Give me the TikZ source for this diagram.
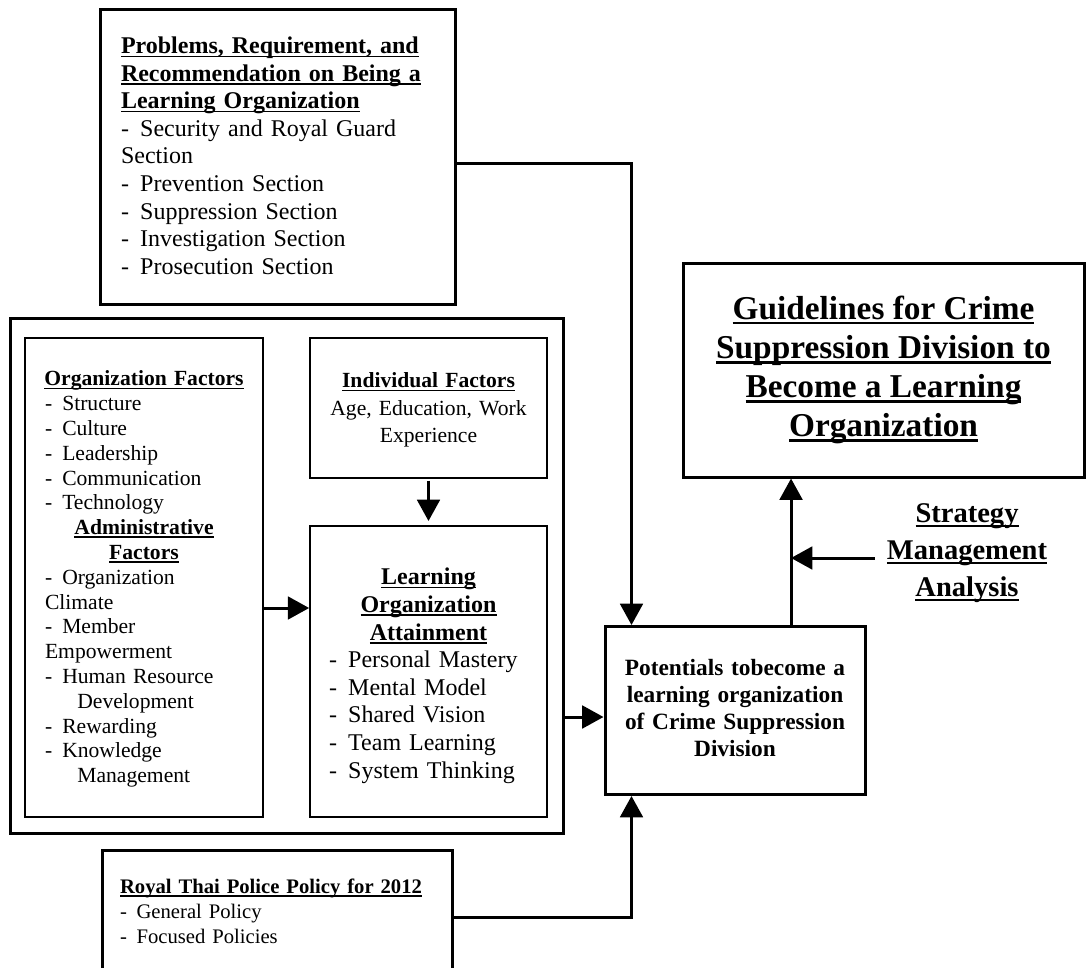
\documentclass[tikz,border=0pt]{standalone}
\usepackage{fontspec}
\setmainfont{Liberation Serif}
\usetikzlibrary{arrows.meta}
\setlength{\parindent}{0pt}
\newlength{\ulwd}
\newcommand{\uln}[1]{\settowidth{\ulwd}{#1}\rlap{\rule[-0.15em]{\ulwd}{0.065em}}#1}
\newcommand{\itm}[1]{\makebox[0.8em][l]{-}#1}
\tikzset{
  thickbox/.style={draw, line width=2.25pt, inner sep=0pt},
  thinbox/.style={draw, line width=1.25pt, inner sep=0pt},
  flow/.style={line width=2.25pt, -{Triangle[length=16pt,width=17pt]}},
}

\begin{document}
\begin{tikzpicture}[x=0.75pt,y=0.75pt,yscale=-1,xscale=1]
\path[use as bounding box, fill=white] (0,0) rectangle (1088,967);

% Shape: Rectangle [problems]
\node[thickbox, anchor=north, minimum width=266.25pt, text height=33pt, text depth=188.25pt,
  inner xsep=15.75pt, text width=234.75pt, align=left,
  font=\fontsize{18pt}{20.7pt}\selectfont] (probbox) at (277.5,8)
  {\textbf{\uln{Problems, Requirement, and}}\\
   \textbf{\uln{Recommendation on Being a}}\\
   \textbf{\uln{Learning Organization}}\\
   \itm{Security and Royal Guard}\\
   Section\\
   \itm{Prevention Section}\\
   \itm{Suppression Section}\\
   \itm{Investigation Section}\\
   \itm{Prosecution Section}};

% Shape: Rectangle [factors frame]
\node[thickbox, minimum width=414.75pt, minimum height=386.25pt] (factbox) at (286.5,575.5) {};

% Shape: Rectangle [organization factors]
\node[thinbox, anchor=north, minimum width=178.5pt, text height=36pt, text depth=323.25pt,
  inner xsep=15pt, text width=148.5pt, align=left,
  font=\fontsize{16.2pt}{18.6pt}\selectfont] (orgbox) at (144,337)
  {\centerline{\textbf{\uln{Organization Factors}}}
   \itm{Structure}\\
   \itm{Culture}\\
   \itm{Leadership}\\
   \itm{Communication}\\
   \itm{Technology}\par
   \centerline{\textbf{\uln{Administrative}}}
   \centerline{\textbf{\uln{Factors}}}
   \itm{Organization}\\
   Climate\\
   \itm{Member}\\
   Empowerment\\
   \itm{Human Resource}\\
   \hspace*{1.5em}Development\\
   \itm{Rewarding}\\
   \itm{Knowledge}\\
   \hspace*{1.5em}Management};

% Shape: Rectangle [individual factors]
\node[thinbox, anchor=north, minimum width=177.75pt, text height=37.5pt, text depth=67.5pt,
  text width=177.75pt, align=center,
  font=\fontsize{16.2pt}{20.6pt}\selectfont] (indbox) at (428.5,337)
  {\textbf{\uln{Individual Factors}}\\
   Age, Education, Work\\
   Experience};

% Shape: Rectangle [attainment]
\node[thinbox, anchor=north, minimum width=177.75pt, text height=44.25pt, text depth=174pt,
  inner xsep=14.25pt, text width=149.25pt, align=left,
  font=\fontsize{18pt}{20.7pt}\selectfont] (lobox) at (428.5,525)
  {\centerline{\textbf{\uln{Learning}}}
   \centerline{\textbf{\uln{Organization}}}
   \centerline{\textbf{\uln{Attainment}}}
   \itm{Personal Mastery}\\
   \itm{Mental Model}\\
   \itm{Shared Vision}\\
   \itm{Team Learning}\\
   \itm{System Thinking}};

% Shape: Rectangle [potentials]
\node[thickbox, anchor=north, minimum width=195pt, text height=36.75pt, text depth=89.25pt,
  text width=195pt, align=center,
  font=\bfseries\fontsize{17.5pt}{20.25pt}\selectfont] (potbox) at (735,625)
  {Potentials tobecome a\\
   learning organization\\
   of Crime Suppression\\
   Division};

% Shape: Rectangle [guidelines]
\node[thickbox, minimum width=300.75pt, minimum height=160.5pt, align=center,
  font=\bfseries\fontsize{25pt}{29.3pt}\selectfont] (guidebox) at (883.5,370)
  {\uln{Guidelines for Crime}\\
   \uln{Suppression Division to}\\
   \uln{Become a Learning}\\
   \uln{Organization}};

% Shape: Rectangle [police policy]
\node[thickbox, anchor=north, minimum width=262.5pt, text height=32.25pt, text depth=73.5pt,
  inner xsep=13.5pt, text width=235.5pt, align=left,
  font=\fontsize{15.5pt}{18.75pt}\selectfont] (polbox) at (277,849)
  {\textbf{\uln{Royal Thai Police Policy for 2012}}\\
   \itm{General Policy}\\
   \itm{Focused Policies}};

% Text Node [strategy]
\node[inner xsep=9pt, inner ysep=0pt, align=center,
  font=\bfseries\fontsize{21.4pt}{27.75pt}\selectfont] (stratlabel) at (967,553)
  {\uln{Strategy}\\
   \uln{Management}\\
   \uln{Analysis}};

% Connectors
\coordinate (upjoint) at ([xshift=-56.6pt]potbox.north east);
\draw[flow] (probbox.east |- 0,163) -| ([xshift=21pt]potbox.north west);
\draw[flow] (polbox.east |- 0,917) -| ([xshift=21pt]potbox.south west);
\draw[flow, shorten <=1.5pt, shorten >=3pt] (indbox) -- (lobox);
\draw[flow] (orgbox.east |- 0,608) -- (lobox.west |- 0,608);
\draw[flow] (factbox.east |- 0,717) -- (potbox.west |- 0,717);
\draw[flow] (upjoint) -- (upjoint |- guidebox.south);
\draw[flow] (stratlabel.west |- 0,558) -- (upjoint |- 0,558);

\end{tikzpicture}
\end{document}
